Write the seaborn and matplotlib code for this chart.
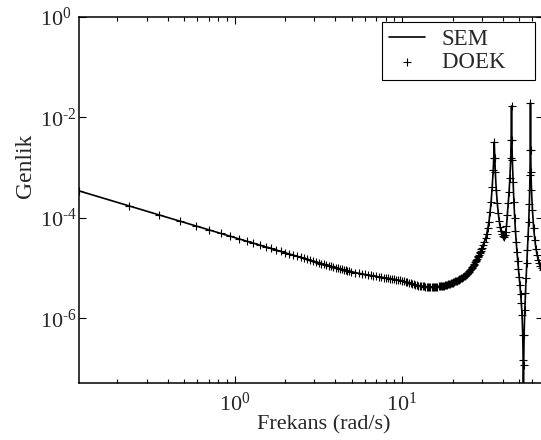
import pandas as pd
import seaborn as sns
import matplotlib.pyplot as plt
import numpy as np
from matplotlib.ticker import FixedLocator, NullLocator, FuncFormatter

# low band: equal frequency steps of 0.118 rad/s
freq_low = [0.118 * k for k in range(1, 43)]
amp_low = [3.46e-4, 1.73e-4, 1.15e-4, 8.65e-5, 6.92e-5, 5.77e-5, 4.94e-5, 4.33e-5,
           3.84e-5, 3.46e-5, 3.15e-5, 2.88e-5, 2.66e-5, 2.47e-5, 2.31e-5, 2.16e-5,
           2.04e-5, 1.92e-5, 1.82e-5, 1.73e-5, 1.65e-5, 1.57e-5, 1.51e-5, 1.44e-5,
           1.39e-5, 1.33e-5, 1.29e-5, 1.24e-5, 1.20e-5, 1.16e-5, 1.12e-5, 1.09e-5,
           1.06e-5, 1.03e-5, 1.00e-5, 9.75e-6, 9.50e-6, 9.28e-6, 9.06e-6, 8.86e-6,
           8.67e-6, 8.50e-6]

# middle band, 5.25 .. 30 rad/s in steps of 0.25
freq_mid = [5.25 + 0.25 * i for i in range(100)]
amp_mid = [8.18e-6, 7.93e-6, 7.72e-6, 7.51e-6, 7.34e-6, 7.17e-6, 7.01e-6, 6.85e-6,
           6.73e-6, 6.60e-6, 6.52e-6, 6.40e-6, 6.31e-6, 6.22e-6, 6.11e-6, 6.03e-6,
           5.92e-6, 5.81e-6, 5.70e-6, 5.57e-6,
           5.45e-6, 5.33e-6, 5.21e-6, 5.09e-6, 4.97e-6, 4.86e-6, 4.75e-6, 4.64e-6,
           4.58e-6, 4.52e-6, 4.47e-6, 4.43e-6, 4.39e-6, 4.35e-6, 4.31e-6, 4.27e-6,
           4.25e-6, 4.24e-6, 4.24e-6, 4.24e-6, 4.24e-6, 4.24e-6, 4.25e-6, 4.27e-6,
           4.30e-6, 4.34e-6, 4.36e-6, 4.39e-6, 4.43e-6, 4.48e-6, 4.53e-6, 4.58e-6,
           4.64e-6, 4.71e-6, 4.78e-6, 4.86e-6, 4.94e-6, 5.02e-6, 5.10e-6, 5.18e-6,
           5.27e-6, 5.37e-6, 5.47e-6, 5.57e-6, 5.67e-6, 5.78e-6, 5.90e-6, 6.03e-6,
           6.17e-6, 6.31e-6, 6.45e-6, 6.60e-6, 6.77e-6, 6.95e-6, 7.14e-6, 7.34e-6,
           7.57e-6, 7.82e-6, 8.11e-6, 8.42e-6, 8.80e-6, 9.19e-6, 9.63e-6, 1.01e-5,
           1.06e-5, 1.12e-5, 1.18e-5, 1.24e-5, 1.31e-5, 1.39e-5, 1.47e-5, 1.56e-5,
           1.65e-5, 1.75e-5, 1.86e-5, 1.97e-5, 2.08e-5, 2.20e-5, 2.36e-5, 2.53e-5]

# resonance band
freq_res = [30.5, 31.0, 31.5, 32.0, 32.5, 33.0, 33.5, 34.0, 34.5, 35.0, 35.25, 35.5,
            35.75, 36.0, 36.5, 37.0, 37.5, 38.0, 38.5, 39.0, 39.5, 40.0, 40.5, 41.0,
            41.5, 42.0, 42.5, 43.0, 43.5, 44.0, 44.5, 44.75, 45.0, 45.25, 45.5, 46.0,
            46.5, 47.0, 47.5, 48.0, 48.5, 49.0, 49.5, 50.0, 50.5, 51.0, 51.5, 52.0,
            52.5, 52.8, 53.0, 53.2, 53.5, 54.0, 54.5, 55.0, 55.5, 56.0, 56.5, 57.0,
            57.5, 58.0, 58.2, 58.4, 58.6, 58.8, 59.2, 60.0, 61.0, 62.0, 63.0, 64.0,
            65.0, 66.0, 67.0, 68.0, 69.0]
amp_res = [2.88e-5, 3.33e-5, 3.91e-5, 4.80e-5, 6.32e-5, 8.32e-5, 1.32e-4, 2.08e-4,
           4.14e-4, 9.02e-4, 1.56e-3, 3.25e-3, 1.56e-3, 8.23e-4, 3.61e-4, 1.99e-4,
           1.26e-4, 8.71e-5, 6.62e-5, 5.39e-5, 4.70e-5, 4.28e-5, 4.19e-5, 4.49e-5,
           5.26e-5, 6.93e-5, 1.15e-4, 1.99e-4, 3.29e-4, 6.25e-4, 1.56e-3, 3.56e-3,
           1.69e-2, 3.56e-3, 1.43e-3, 5.20e-4, 2.08e-4, 1.00e-4, 5.51e-5, 3.33e-5,
           2.11e-5, 1.39e-5, 9.66e-6, 6.70e-6, 4.64e-6, 3.07e-6, 2.03e-6, 1.17e-6,
           4.70e-7, 1.49e-7, 9.5e-9, 1.19e-7, 4.70e-7, 1.48e-6, 3.21e-6, 6.40e-6,
           1.27e-5, 2.31e-5, 4.38e-5, 8.32e-5, 1.90e-4, 7.18e-4, 2.26e-3, 1.94e-2,
           2.26e-3, 8.23e-4, 3.61e-4, 1.44e-4, 6.32e-5, 3.65e-5, 2.42e-5, 1.84e-5,
           1.46e-5, 1.27e-5, 1.11e-5, 1.01e-5, 9.23e-6]

df = pd.DataFrame({'freq': freq_low + freq_mid + freq_res,
                   'amp': amp_low + amp_mid + amp_res})

sns.set_style('ticks')
plt.rcParams['font.family'] = ['Liberation Serif', 'DejaVu Serif']
plt.rcParams['mathtext.fontset'] = 'custom'
plt.rcParams['mathtext.rm'] = 'Liberation Serif'
plt.rcParams['mathtext.it'] = 'Liberation Serif:italic'
plt.rcParams['axes.unicode_minus'] = False

fig = plt.figure(figsize=(5.41, 4.40), dpi=100)
ax = fig.add_axes([0.146, 0.1295, 0.857, 0.832])

sns.lineplot(data=df, x='freq', y='amp', color='k', linewidth=1.2, label='SEM', ax=ax)
sns.scatterplot(data=df, x='freq', y='amp', marker='+', color='k', s=34,
                linewidth=0.8, label='DOEK    ', ax=ax, zorder=3)

ax.set_xscale('log')
ax.set_yscale('log')
ax.set_xlim(0.118, 69)
ax.set_ylim(5.2e-8, 1)
ax.yaxis.set_major_locator(FixedLocator([1e-6, 1e-4, 1e-2, 1e0]))
ax.yaxis.set_minor_locator(NullLocator())


def dec_label(v, pos):
    return r'$\mathdefault{10^{\text{%d}}}$' % int(round(np.log10(v)))


ax.xaxis.set_major_formatter(FuncFormatter(dec_label))
ax.yaxis.set_major_formatter(FuncFormatter(dec_label))

ax.tick_params(which='both', direction='in', top=True, right=True, labelsize=16,
               color='k', width=0.8)
ax.tick_params(which='major', length=5)
ax.tick_params(which='minor', length=3)
ax.tick_params(axis='x', pad=7)
ax.tick_params(axis='y', pad=28)
plt.setp(ax.get_yticklabels(), ha='left')
for sp in ax.spines.values():
    sp.set_linewidth(1.1)
    sp.set_color('k')

ax.set_xlabel('Frekans (rad/s)', fontsize=16)
ax.set_ylabel('Genlik', fontsize=17)
ax.xaxis.set_label_coords(0.528, -0.088)
ax.yaxis.set_label_coords(-0.092, 0.593)

leg = ax.legend(loc='upper right', bbox_to_anchor=(0.984, 0.986), borderaxespad=0,
                frameon=True, fancybox=False, edgecolor='k', framealpha=1,
                fontsize=16.5, handlelength=1.6, handletextpad=0.72,
                borderpad=0.3, labelspacing=0.1)
leg.get_frame().set_linewidth(0.8)

fig.savefig('out.png', dpi=100)
